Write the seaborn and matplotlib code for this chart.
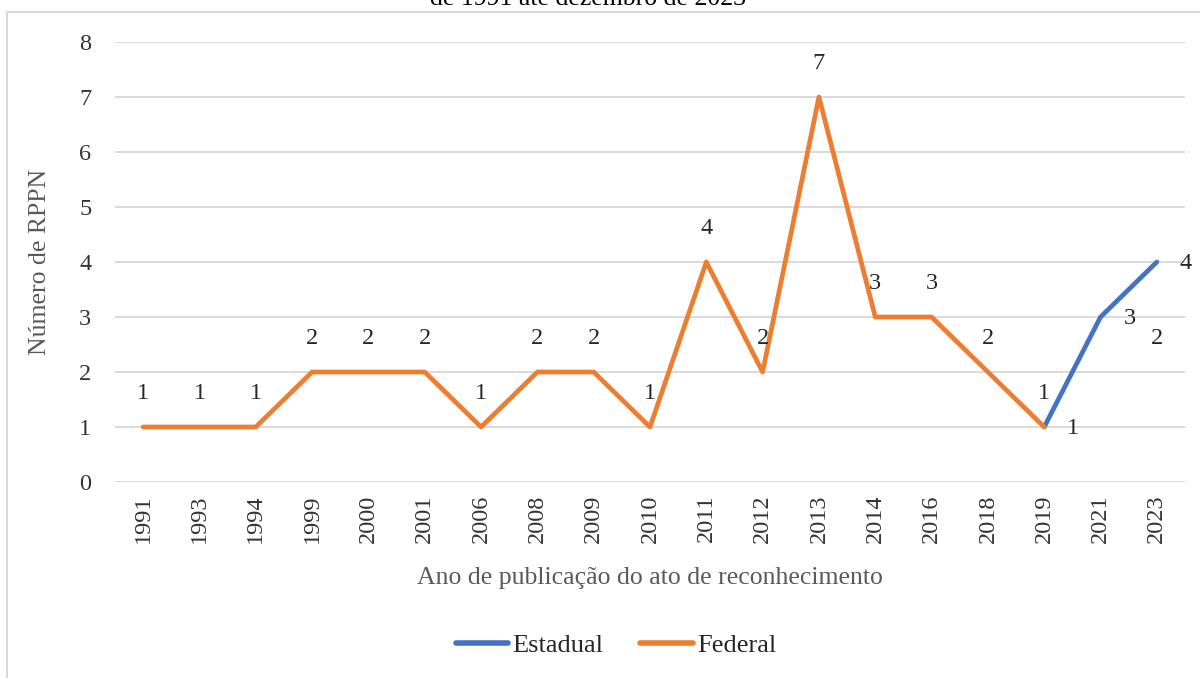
import numpy as np
import pandas as pd
import matplotlib
matplotlib.use('Agg')
from matplotlib import pyplot as plt
from matplotlib.lines import Line2D
from matplotlib.patches import Rectangle
import seaborn as sns

anos = ['1991', '1993', '1994', '1999', '2000', '2001', '2006', '2008', '2009', '2010',
        '2011', '2012', '2013', '2014', '2016', '2018', '2019', '2021', '2023']
federal = [1, 1, 1, 2, 2, 2, 1, 2, 2, 1, 4, 2, 7, 3, 3, 2, 1, None, 2]
estadual = [None] * 16 + [1, 3, 4]

cores = {'Estadual': '#4472C4', 'Federal': '#ED7D31'}

# long table; 'trecho' splits a series where a year is missing (gap, like Excel)
linhas = []
for tipo, valores in [('Estadual', estadual), ('Federal', federal)]:
    trecho = 0
    for i, v in enumerate(valores):
        if v is None:
            trecho += 1
            continue
        linhas.append({'pos': i, 'valor': v, 'tipo': tipo, 'trecho': f'{tipo}{trecho}'})
df = pd.DataFrame(linhas)

sns.set_style('white')
plt.rcParams['font.family'] = ['Liberation Serif', 'DejaVu Serif']

fig = plt.figure(figsize=(12, 6.78), dpi=100)
ax = fig.add_axes([115 / 1200, 1 - 482 / 678, 1070 / 1200, 440 / 678])

sns.lineplot(data=df, x='pos', y='valor', hue='tipo', units='trecho', estimator=None,
             hue_order=['Estadual', 'Federal'], palette=cores, lw=3.4,
             solid_capstyle='round', solid_joinstyle='round', legend=False, ax=ax)

cor_txt = '#262626'
for i, v in enumerate(federal):
    if v is not None:
        ax.annotate(str(v), (i, v), xytext=(0, 24), textcoords='offset points',
                    ha='center', va='center', fontsize=17.5, color=cor_txt)
for i, v in enumerate(estadual):
    if v is not None:
        ax.annotate(str(v), (i, v), xytext=(21, -1), textcoords='offset points',
                    ha='center', va='center', fontsize=17.5, color=cor_txt)

ax.set_xlim(-0.5, len(anos) - 0.5)
ax.set_ylim(0, 8)
ax.set_xticks(range(len(anos)))
ax.set_xticklabels(anos, rotation=90)
ax.set_yticks(range(0, 9))
ax.yaxis.grid(True, color='#D9D9D9', lw=1.4)
ax.set_axisbelow(True)
for s in ax.spines.values():
    s.set_visible(False)
ax.tick_params(axis='x', length=0, pad=9, labelsize=17.5, labelcolor='#333333')
ax.tick_params(axis='y', length=0, pad=17, labelsize=17.5, labelcolor='#333333')

ax.set_xlabel('Ano de publicação do ato de reconhecimento', fontsize=18.5,
              color='#595959', labelpad=17)
ax.set_ylabel('Número de RPPN', fontsize=18.5, color='#595959', labelpad=20)

fig.text(0.49, 1 - 5 / 678, 'de 1991 até dezembro de 2023', ha='center', va='baseline',
         fontsize=18.5, color='black')

fig.patches.append(Rectangle((7 / 1200, -0.05), 1.1, 1 - 12 / 678 + 0.05,
                             transform=fig.transFigure, fill=False,
                             edgecolor='#D9D9D9', lw=1.5))

handles = [Line2D([], [], color=cores[k], lw=4, solid_capstyle='round') for k in ['Estadual', 'Federal']]
fig.legend(handles, ['Estadual', 'Federal'], loc='center', bbox_to_anchor=(616 / 1200, 1 - 645 / 678),
           ncol=2, frameon=False, fontsize=19, handlelength=2.0, handletextpad=0.15,
           columnspacing=1.4)

fig.savefig('out.png', dpi=100)
